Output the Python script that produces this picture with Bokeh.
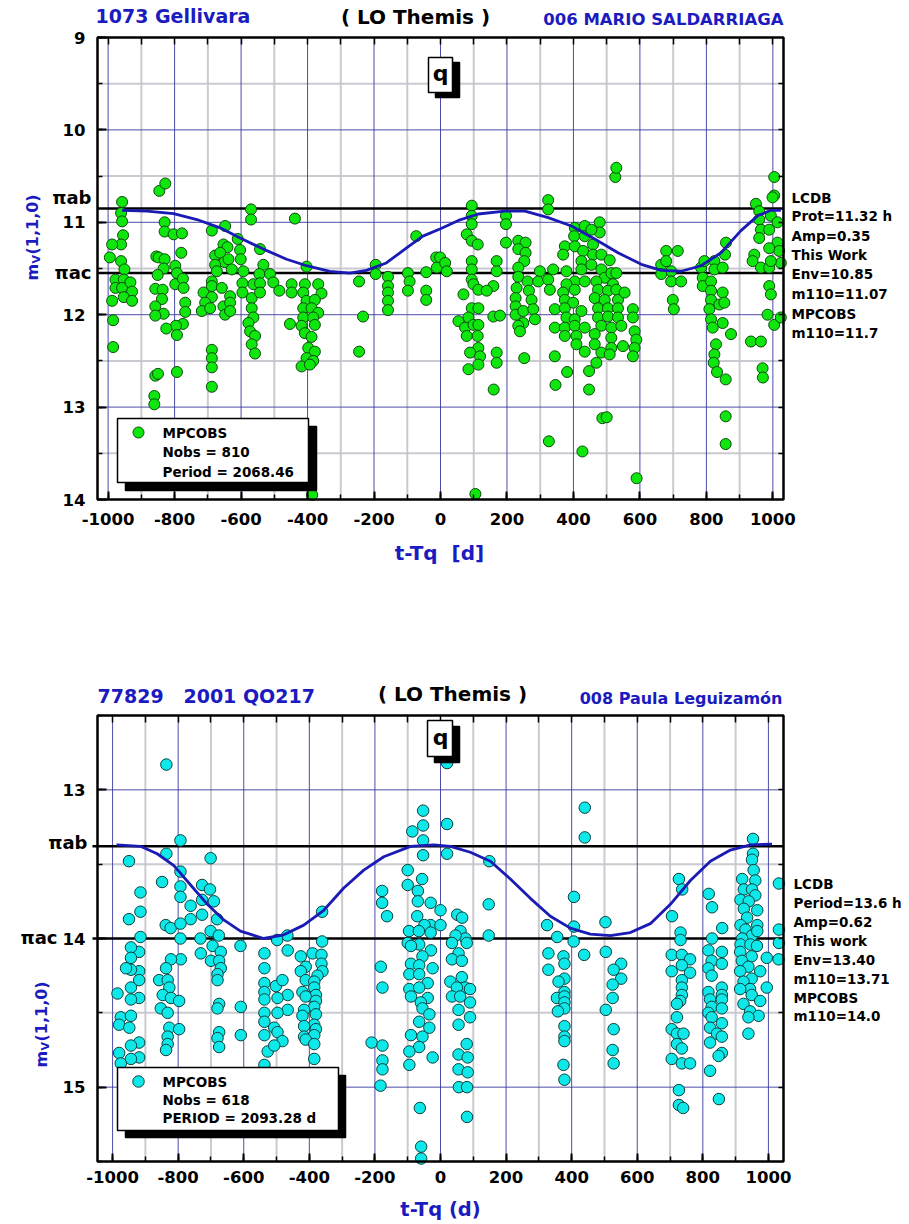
from math import pi
from bokeh.plotting import figure
from bokeh.models import Range1d, LinearAxis, SingleIntervalTicker, FixedTicker, Label
from bokeh.layouts import column
from bokeh.embed import file_html
from bokeh.resources import INLINE

# ---------------- panel 1 : 1073 Gellivara ----------------
obs1 = [
    (-958,10.78),(-961,10.90),(-958,10.99),(-955,11.14),(-961,11.24),(-988,11.24),(-995,11.38),(-961,11.42),
    (-951,11.51),(-978,11.62),(-953,11.62),(-978,11.71),(-958,11.71),(-933,11.65),(-928,11.75),(-953,11.81),
    (-928,11.85),(-988,11.85),(-985,12.06),(-985,12.35),
    (-846,10.66),(-828,10.58),(-830,11.00),(-830,11.10),(-803,11.13),(-778,11.12),(-780,11.33),(-855,11.37),
    (-848,11.38),(-830,11.40),(-833,11.50),(-851,11.57),(-798,11.47),(-793,11.55),(-798,11.67),(-775,11.61),
    (-773,11.71),(-858,11.72),(-836,11.73),(-838,11.83),(-858,11.91),(-833,11.99),(-858,12.01),(-768,11.87),
    (-768,11.97),(-775,12.10),(-796,12.12),(-825,12.15),(-793,12.22),(-858,12.66),(-850,12.64),(-861,12.88),
    (-861,12.97),(-793,12.62),
    (-688,11.09),(-648,11.04),(-610,11.18),(-653,11.24),(-641,11.27),(-678,11.36),(-663,11.33),(-650,11.43),
    (-678,11.46),(-673,11.53),(-638,11.40),(-628,11.51),(-603,11.30),(-601,11.40),(-593,11.53),(-688,11.64),
    (-713,11.76),(-688,11.69),(-658,11.71),(-633,11.80),(-688,11.81),(-708,11.87),(-718,11.96),(-693,11.93),
    (-653,11.91),(-633,11.87),(-648,12.00),(-633,11.96),(-688,12.38),(-688,12.47),(-688,12.57),(-688,12.78),
    (-570,10.86),(-570,10.97),
    (-543,11.29),(-533,11.46),(-545,11.56),(-513,11.56),(-596,11.66),(-596,11.76),(-568,11.82),(-563,11.67),
    (-543,11.66),(-543,11.76),(-503,11.65),(-485,11.74),(-568,11.93),(-563,12.03),(-578,12.09),(-573,12.18),
    (-558,12.23),(-568,12.32),(-558,12.42),(-438,10.96),
    (-448,11.67),(-448,11.76),(-403,11.48),(-408,11.67),(-368,11.67),(-413,11.76),(-358,11.77),(-403,11.85),
    (-378,11.84),(-413,11.93),(-388,11.93),(-368,11.98),(-413,12.03),(-383,12.03),(-418,12.12),(-378,12.11),
    (-408,12.20),(-388,12.24),(-453,12.10),(-398,12.36),(-378,12.40),(-403,12.47),(-383,12.50),(-418,12.56),
    (-393,12.54),(-386,13.95),
    (-245,11.64),(-233,12.02),(-245,12.40),(-195,11.46),(-195,11.56),(-158,11.59),(-158,11.69),(-158,11.76),
    (-158,11.85),(-158,11.95),
    (-73,11.15),(-98,11.55),(-93,11.64),(-98,11.74),(-43,11.54),(-43,11.74),(-43,11.84),(-13,11.38),(-11,11.49),
    (526,10.51),(529,10.41),(1004,10.51),(1004,10.71),(324,10.76),(324,10.86),
    (94,10.82),(94,10.93),(94,11.02),(79,11.13),(94,11.20),(112,11.24),(94,11.42),(94,11.51),(94,11.62),
    (99,11.67),(114,11.73),(69,11.78),(94,11.93),(114,11.93),(84,12.03),(54,12.07),(74,12.14),(99,12.11),
    (114,12.11),(79,12.23),(112,12.23),(114,12.36),(89,12.41),(119,12.45),(84,12.59),(114,12.54),(-1,11.38),
    (14,11.44),(19,11.53),(160,12.81),(105,13.94),
    (197,10.93),(197,11.02),(197,11.22),(169,11.42),(169,11.53),(159,11.69),(139,11.74),(159,12.02),
    (179,12.01),(169,12.41),(169,12.52),
    (234,11.20),(256,11.22),(234,11.29),(256,11.33),(252,11.42),(234,11.49),(234,11.59),(262,11.64),
    (266,11.74),(274,11.84),(229,11.71),(226,11.82),(226,11.91),(226,12.00),(249,11.96),(279,11.94),
    (284,12.05),(249,12.09),(234,12.12),(239,12.18),(252,12.47),
    (299,11.53),(294,11.64),(324,11.62),(339,11.51),(329,11.73),(344,11.94),(344,12.14),(344,12.45),
    (346,12.76),(326,13.37),
    (404,11.06),(434,11.04),(402,11.15),(434,11.15),(374,11.26),(404,11.26),(369,11.35),(429,11.31),
    (424,11.42),(379,11.53),(424,11.51),(404,11.64),(434,11.64),(379,11.67),(369,11.76),(404,11.73),
    (374,11.84),(399,11.87),(424,11.96),(374,11.93),(379,12.03),(404,12.05),(374,12.14),(404,12.12),
    (434,12.14),(374,12.23),(409,12.23),(409,12.32),(434,12.40),(381,12.62),(427,13.48),(447,12.61),(447,12.81),
    (479,11.00),(479,11.11),(454,11.08),(459,11.24),(459,11.35),(484,11.35),(509,11.41),(454,11.46),
    (484,11.51),(494,11.60),(469,11.64),(514,11.55),(529,11.55),(519,11.67),(474,11.73),(504,11.74),
    (529,11.73),(464,11.82),(494,11.84),(534,11.84),(474,11.93),(504,11.93),(534,11.93),(474,12.03),
    (504,12.02),(534,12.03),(484,12.12),(514,12.14),(544,12.12),(464,12.21),(514,12.25),(464,12.32),
    (514,12.36),(484,12.41),(549,12.34),(469,12.52),(509,12.43),(487,13.12),(500,13.11),
    (554,11.76),(579,11.94),(579,12.03),(584,12.18),(589,12.27),(584,12.36),(579,12.45),(590,13.77),
    (679,11.31),(714,11.31),(664,11.46),(679,11.42),(694,11.53),(694,11.64),(724,11.64),(664,11.56),
    (699,11.84),(702,11.94),
    (784,11.49),(794,11.42),(824,11.42),(824,11.51),(849,11.49),(789,11.60),(789,11.69),(814,11.64),
    (814,11.74),(849,11.76),(814,11.84),(839,11.89),(809,11.94),(854,11.87),(814,12.05),(849,12.09),
    (819,12.14),(874,12.21),(829,12.32),(824,12.43),(822,12.52),(859,11.22),(856,11.35),(832,12.62),
    (858,12.70),(858,13.10),(858,13.40),
    (949,10.80),(959,10.88),(959,10.97),(964,11.08),(959,11.17),(989,11.08),(994,10.93),(999,10.73),
    (1014,11.00),(944,11.35),(939,11.42),(964,11.49),(989,11.49),(1014,11.22),(1019,11.31),(1024,11.44),
    (989,11.28),(994,11.42),(989,11.69),(994,11.78),(984,12.00),(1004,12.11),(1024,12.03),(934,12.29),
    (964,12.29),(969,12.58),(970,12.68),
]
t1 = [a for a, b in obs1]
m1 = [b for a, b in obs1]

fit1_t = [-958,-883,-803,-733,-663,-603,-533,-463,-403,-333,-273,-223,-163,-103,-53,0,54,114,194,254,
          324,394,464,534,604,664,724,784,844,904,954,994,1024]
fit1_m = [10.87,10.88,10.905,10.97,11.06,11.17,11.29,11.40,11.47,11.53,11.55,11.52,11.44,11.28,11.15,11.07,
          10.98,10.91,10.88,10.88,10.95,11.04,11.18,11.33,11.455,11.52,11.53,11.47,11.33,11.09,10.93,10.87,10.87]
pi_ab1, pi_ac1 = 10.85, 11.55
notes1 = ["LCDB", "Prot=11.32 h", "Amp=0.35", "This Work", "Env=10.85", "m110=11.07", "MPCOBS", "m110=11.7"]
legend1 = ["MPCOBS", "Nobs = 810", "Period = 2068.46"]

# ---------------- panel 2 : 77829 2001 QO217 ----------------
obs2 = [
    (-836,12.83),(-950,13.48),(-793,13.34),(-836,13.43),(-849,13.62),(-793,13.55),(-701,13.46),(-727,13.64),
    (-703,13.67),(-793,13.65),(-793,13.72),(-727,13.74),(-691,13.75),(-915,13.69),(-915,13.82),(-950,13.87),
    (-762,13.78),(-727,13.84),(-681,13.87),(-762,13.87),(-838,13.91),(-823,13.93),(-793,13.90),(-701,13.95),
    (-676,13.98),(-915,13.99),(-793,14.00),(-732,14.00),(-610,14.05),(-467,13.98),(-498,14.01),(-361,13.82),
    (-361,14.02),
    (-178,13.68),(-178,13.76),(-163,13.85),(-100,13.54),(-100,13.64),(-53,13.14),(-86,13.28),(-53,13.24),
    (-53,13.34),(-53,13.44),(-69,13.68),(-69,13.75),(-56,13.60),(-30,13.76),(0,13.81),(-30,13.91),(0,13.91),
    (-49,13.91),(-71,13.85),(-96,13.95),(-66,13.95),(-30,13.96),(20,13.23),(20,13.43),(20,12.82),
    (440,13.12),(440,13.32),(149,13.48),(147,13.77),(147,13.98),(51,13.84),(66,13.86),(61,13.95),(76,14.00),
    (46,13.98),(407,13.72),(407,13.92),(325,13.91),(356,13.99),(503,13.89),(727,13.60),(737,13.67),
    (706,13.85),(732,13.96),(732,14.01),(818,13.70),(828,13.79),(859,13.93),(828,14.00),(953,13.33),
    (953,13.43),(950,13.47),(955,13.54),(920,13.60),(960,13.61),(925,13.67),(950,13.67),(960,13.71),
    (915,13.74),(940,13.75),(925,13.80),(966,13.81),(935,13.86),(915,13.91),(966,13.91),(930,13.94),
    (950,13.98),(920,14.00),(966,13.95),(915,14.04),(945,14.04),(1032,13.63),(1032,13.94),(1032,14.03),
    (-919,14.09),(-944,14.06),(-944,14.13),(-919,14.22),(-919,14.28),(-944,14.21),(-959,14.20),(-944,14.33),
    (-919,14.40),(-944,14.41),(-985,14.37),(-975,14.53),(-944,14.52),(-980,14.58),(-949,14.60),(-919,14.70),
    (-944,14.72),(-980,14.77),(-919,14.80),(-944,14.81),(-975,14.84),
    (-792,14.14),(-822,14.14),(-837,14.20),(-858,14.28),(-832,14.28),(-827,14.33),(-847,14.38),(-822,14.40),
    (-797,14.42),(-853,14.47),(-832,14.50),(-827,14.60),(-797,14.61),(-832,14.66),(-832,14.71),(-837,14.75),
    (-731,14.10),(-695,14.05),(-670,14.09),(-700,14.15),(-675,14.15),(-670,14.20),(-680,14.24),(-680,14.28),
    (-675,14.44),(-680,14.47),(-675,14.63),(-680,14.67),(-675,14.73),(-609,14.46),(-609,14.65),
    (-537,14.10),(-537,14.20),(-537,14.30),(-537,14.36),(-537,14.41),(-537,14.50),(-537,14.56),(-537,14.65),
    (-527,14.76),(-537,14.85),(-466,14.08),(-502,14.32),(-482,14.28),(-466,14.38),(-497,14.40),(-466,14.48),
    (-497,14.50),(-507,14.60),(-497,14.63),(-482,14.69),(-507,14.72),
    (-390,14.10),(-363,14.11),(-426,14.12),(-363,14.17),(-411,14.19),(-360,14.22),(-426,14.22),(-375,14.25),
    (-411,14.28),(-385,14.29),(-421,14.36),(-385,14.33),(-380,14.38),(-411,14.39),(-380,14.42),(-385,14.46),
    (-416,14.48),(-380,14.51),(-421,14.52),(-385,14.58),(-416,14.59),(-380,14.61),(-416,14.66),(-385,14.65),
    (-411,14.68),(-385,14.71),(-385,14.81),
    (-182,14.19),(-177,14.33),(-210,14.70),(-177,14.72),(-177,14.82),(-177,14.88),(-183,14.99),
    (-100,14.03),(-65,14.04),(-90,14.05),(-29,14.08),(-55,14.12),(-90,14.17),(-65,14.18),(-24,14.20),
    (-95,14.24),(-65,14.24),(-39,14.30),(-95,14.34),(-65,14.33),(-90,14.39),(-39,14.40),(-60,14.43),
    (-55,14.47),(-34,14.51),(-65,14.56),(-34,14.60),(-55,14.66),(-90,14.65),(-65,14.73),(-95,14.76),
    (-24,14.80),(-95,14.85),(-63,15.14),(-59,15.40),(-59,15.48),
    (35,14.03),(80,14.03),(55,14.10),(35,14.14),(65,14.15),(30,14.29),(65,14.26),(75,14.33),(50,14.33),
    (90,14.34),(35,14.39),(60,14.39),(90,14.43),(55,14.48),(90,14.53),(55,14.58),(80,14.71),(55,14.78),
    (83,14.80),(55,14.88),(83,14.90),(56,15.00),(81,15.00),(81,15.20),
    (406,14.02),(329,14.10),(375,14.12),(378,14.17),(329,14.21),(378,14.27),(360,14.29),(378,14.36),
    (355,14.40),(378,14.39),(378,14.43),(378,14.47),(358,14.49),(378,14.59),(378,14.66),(378,14.69),
    (375,14.85),(378,14.95),(438,14.11),
    (504,14.09),(551,14.17),(528,14.21),(551,14.27),(525,14.31),(525,14.40),(504,14.48),(528,14.61),
    (525,14.75),(528,14.84),
    (705,14.11),(736,14.11),(761,14.14),(705,14.22),(736,14.18),(761,14.23),(736,14.28),(736,14.33),
    (736,14.38),(731,14.42),(721,14.44),(721,14.53),(705,14.61),(721,14.64),(741,14.64),(721,14.71),
    (736,14.74),(705,14.81),(736,14.84),(761,14.84),(727,15.02),(727,15.12),(740,15.14),
    (817,14.08),(858,14.09),(827,14.15),(858,14.17),(817,14.20),(827,14.25),(858,14.33),(817,14.36),
    (858,14.38),(822,14.41),(858,14.41),(827,14.46),(858,14.47),(817,14.50),(827,14.53),(858,14.57),
    (822,14.60),(843,14.64),(858,14.66),(822,14.70),(858,14.77),(848,14.79),(822,14.89),(849,15.08),
    (965,14.05),(914,14.09),(949,14.12),(919,14.15),(939,14.19),(975,14.22),(914,14.22),(949,14.27),
    (924,14.29),(944,14.34),(914,14.34),(949,14.38),(975,14.42),(924,14.44),(944,14.49),(970,14.52),
    (939,14.53),(939,14.64),(995,14.13),(1031,14.14),(995,14.33),
]
t2 = [a for a, b in obs2]
m2 = [b for a, b in obs2]

fit2_t = [-988,-915,-864,-813,-762,-711,-661,-610,-539,-478,-417,-356,-295,-234,-173,-91,-20,30,91,152,
          213,274,335,396,457,518,579,640,701,762,823,884,945,1011]
fit2_m = [13.37,13.38,13.43,13.51,13.64,13.77,13.875,13.95,14.0,13.975,13.91,13.81,13.66,13.54,13.45,13.38,
          13.37,13.38,13.42,13.48,13.60,13.73,13.85,13.93,13.97,13.98,13.96,13.90,13.77,13.61,13.48,13.405,
          13.37,13.365]
pi_ab2, pi_ac2 = 13.38, 14.0
notes2 = ["LCDB", "Period=13.6 h", "Amp=0.62", "This work", "Env=13.40", "m110=13.71", "MPCOBS", "m110=14.0"]
legend2 = ["MPCOBS", "Nobs = 618", "PERIOD = 2093.28 d"]

# ---------------- styling ----------------
FONT = "DejaVu Sans"
BLUE = "#1b1bbf"
CURVE = "#1a1ab4"
MAJ_GRID = "#3a3aa0"
MIN_GRID = "#c4c4cc"
NB = "\u00a0"
W = 905


def make_panel(H, page_top, xlim, ylim, box):
    x0, x1 = xlim
    ytop, ybot = ylim
    bl, bt, br, bb = box          # plot box, page pixels

    def X(px):
        return x0 + (px - bl) / (br - bl) * (x1 - x0)

    def Y(py):
        return ytop + (py - bt) / (bb - bt) * (ybot - ytop)

    p = figure(frame_width=W, frame_height=H, min_border=0,
               x_range=Range1d(X(0), X(W)), y_range=Range1d(Y(page_top + H), Y(page_top)),
               x_axis_location=None, y_axis_location=None,
               output_backend="svg", toolbar_location=None)
    p.outline_line_color = None
    p.background_fill_color = "white"
    p.border_fill_color = "white"
    p.xgrid.visible = False
    p.ygrid.visible = False
    return p, X, Y


def style_axis(ax, major_in, minor_in, standoff):
    ax.axis_line_color = None
    ax.major_tick_in = major_in
    ax.major_tick_out = 0
    ax.minor_tick_in = minor_in
    ax.minor_tick_out = 0
    ax.major_tick_line_color = "black"
    ax.major_tick_line_width = 2
    ax.minor_tick_line_color = "black"
    ax.minor_tick_line_width = 1.5
    ax.major_label_text_font = FONT
    ax.major_label_text_font_style = "bold"
    ax.major_label_text_color = "black"
    ax.major_label_text_font_size = "16.5px"
    ax.major_label_standoff = standoff


def frame_axes(p, xlim, ylim, xs_std, ys_std):
    x0, x1 = xlim
    ytop, ybot = ylim
    ylo, yhi = min(ytop, ybot), max(ytop, ybot)
    xb = LinearAxis(fixed_location=ybot, bounds=(x0, x1),
                    ticker=SingleIntervalTicker(interval=200, num_minor_ticks=2))
    style_axis(xb, 8, 5, xs_std)
    xb.major_label_overrides = {v: str(v) for v in range(-1000, 0, 200)}
    p.add_layout(xb, "below")
    yl = LinearAxis(fixed_location=x0, bounds=(ylo, yhi),
                    ticker=SingleIntervalTicker(interval=1, num_minor_ticks=2))
    style_axis(yl, 9, 5, ys_std)
    p.add_layout(yl, "left")
    xt = LinearAxis(fixed_location=ytop, bounds=(x0, x1),
                    ticker=FixedTicker(ticks=[], minor_ticks=list(range(-1000, 1001, 100))))
    style_axis(xt, 8, 7, 0)
    p.add_layout(xt, "above")
    yr = LinearAxis(fixed_location=x1, bounds=(ylo, yhi),
                    ticker=FixedTicker(ticks=[], minor_ticks=[ylo + 0.5 * k for k in range(1, int((yhi - ylo) * 2))]))
    style_axis(yr, 6, 5, 0)
    p.add_layout(yr, "right")


def grid_lines(p, xlim, ylim):
    x0, x1 = xlim
    ytop, ybot = ylim
    ylo, yhi = min(ytop, ybot), max(ytop, ybot)
    xmaj = list(range(-1000, 1001, 200))
    xmin = list(range(-900, 1000, 200))
    ymaj = [v for v in range(int(ylo) + 1, int(yhi) + 1) if ylo < v < yhi]
    ymin = [v + 0.5 for v in range(int(ylo), int(yhi)) if ylo < v + 0.5 < yhi]
    for xs, ys, col, w in ((xmin, ymin, MIN_GRID, 2), (xmaj, ymaj, MAJ_GRID, 1)):
        p.segment(x0=xs, x1=xs, y0=[ytop] * len(xs), y1=[ybot] * len(xs),
                  line_color=col, line_width=w, line_alpha=0.9, level="underlay")
        p.segment(x0=[x0] * len(ys), x1=[x1] * len(ys), y0=ys, y1=ys,
                  line_color=col, line_width=w, line_alpha=0.9, level="underlay")


def txt(p, X, Y, px, py, text, size, color="black", align="left", baseline="middle", angle=0, level="annotation"):
    p.add_layout(Label(x=X(px), y=Y(py), text=text, text_font=FONT, text_font_style="bold",
                       text_font_size=size, text_color=color, text_align=align,
                       text_baseline=baseline, angle=angle, level=level))


def draw(p, X, Y, xlim, ylim, t, m, fit_t, fit_m, ab, ac, line_x0, fill, edge, msize, notes, note_x, note_ys,
         legend, box, shadow, mark_xy, leg_x, leg_ys, qbox, qshadow, qxy):
    x0, x1 = xlim
    ytop, ybot = ylim
    grid_lines(p, xlim, ylim)
    p.segment(x0=[line_x0, line_x0], x1=[x1, x1], y0=[ab, ac], y1=[ab, ac], line_color="black", line_width=2.5)
    p.scatter(t, m, size=msize, fill_color=fill, line_color=edge, line_width=1)
    p.line(fit_t, fit_m, line_color=CURVE, line_width=2.8)
    # frame outline
    p.quad(left=[x0], right=[x1], top=[ytop], bottom=[ybot], fill_color=None,
           line_color="black", line_width=2.5, level="overlay")
    # legend box with shadow
    for (l, tp, r, b), col in ((shadow, "black"), (box, "white")):
        p.quad(left=[X(l)], right=[X(r)], top=[Y(tp)], bottom=[Y(b)], fill_color=col,
               line_color="black", line_width=1.5, level="overlay")
    p.scatter([X(mark_xy[0])], [Y(mark_xy[1])], size=msize, fill_color=fill, line_color=edge,
              line_width=1, level="overlay")
    for s, yy in zip(legend, leg_ys):
        txt(p, X, Y, leg_x, yy, s, "13.5px", level="overlay")
    # q box
    for (l, tp, r, b), col in ((qshadow, "black"), (qbox, "white")):
        p.quad(left=[X(l)], right=[X(r)], top=[Y(tp)], bottom=[Y(b)], fill_color=col,
               line_color="black", line_width=1.5, level="overlay")
    txt(p, X, Y, qxy[0], qxy[1], "q", "22px", align="center", level="overlay")
    for s, yy in zip(notes, note_ys):
        txt(p, X, Y, note_x, yy, s, "13.5px")


# ---- top figure (page y 0..640) ----
xl1, yl1 = (-1032, 1032), (9, 14)
p1, X1, Y1 = make_panel(640, 0, xl1, yl1, (97, 37, 783, 499))
frame_axes(p1, xl1, yl1, 13, 12)
draw(p1, X1, Y1, xl1, yl1, t1, m1, fit1_t, fit1_m, pi_ab1, pi_ac1, -1032, "#0ee60e", "#0b4a0b", 11,
     notes1, 791, [197, 215, 235, 254, 273, 293, 313, 332],
     legend1, (117, 418, 308, 482), (125, 426, 316, 490), (138, 432), 162, [432, 451, 471],
     (428, 57, 452, 92), (435, 62, 459, 97), (440, 73))
txt(p1, X1, Y1, 95, 15, "1073 Gellivara", "19px", color=BLUE)
txt(p1, X1, Y1, 415, 16, "( LO Themis )", "20px", align="center")
txt(p1, X1, Y1, 783, 19, "006 MARIO SALDARRIAGA", "16.5px", color=BLUE, align="right")
txt(p1, X1, Y1, 439, 552, "t-Tq" + NB + NB + "[d]", "20px", color=BLUE, align="center")
txt(p1, X1, Y1, 91, 197, "\u03c0ab", "18px", align="right")
txt(p1, X1, Y1, 91, 272, "\u03c0ac", "18px", align="right")
txt(p1, X1, Y1, 32, 280, "m", "16px", color=BLUE, baseline="alphabetic", angle=pi / 2)
txt(p1, X1, Y1, 36, 263, "V", "11px", color=BLUE, baseline="alphabetic", angle=pi / 2)
txt(p1, X1, Y1, 32, 254, "(1,1,0)", "16px", color=BLUE, baseline="alphabetic", angle=pi / 2)

# ---- bottom figure (page y 640..1224) ----
xl2, yl2 = (-1046, 1046), (12.5, 15.5)
p2, X2, Y2 = make_panel(584, 640, xl2, yl2, (97, 715, 783, 1161))
frame_axes(p2, xl2, yl2, 9, 12)
draw(p2, X2, Y2, xl2, yl2, t2, m2, fit2_t, fit2_m, pi_ab2, pi_ac2, X2(92), "#0ee8e8", "#0a4040", 11.5,
     notes2, 793, [883, 902, 921, 940, 959, 978, 997, 1015],
     legend2, (117, 1067, 338, 1130), (125, 1075, 345, 1137), (138, 1081), 162, [1081, 1099, 1117],
     (427, 720, 452, 756), (434, 726, 459, 762), (440, 737))
txt(p2, X2, Y2, 97, 695, "77829" + NB * 3 + "2001 QO217", "19px", color=BLUE)
txt(p2, X2, Y2, 452, 693, "( LO Themis )", "20px", align="center")
txt(p2, X2, Y2, 782, 698, "008 Paula Leguizamón", "16px", color=BLUE, align="right")
txt(p2, X2, Y2, 440, 1209, "t-Tq (d)", "19.5px", color=BLUE, align="center")
txt(p2, X2, Y2, 87, 842, "\u03c0ab", "18px", align="right")
txt(p2, X2, Y2, 57, 937, "\u03c0ac", "18px", align="right")
txt(p2, X2, Y2, 41, 1067, "m", "16px", color=BLUE, baseline="alphabetic", angle=pi / 2)
txt(p2, X2, Y2, 45, 1050, "V", "11px", color=BLUE, baseline="alphabetic", angle=pi / 2)
txt(p2, X2, Y2, 41, 1041, "(1,1,0)", "16px", color=BLUE, baseline="alphabetic", angle=pi / 2)

layout = column(p1, p2)
open("out.html", "w").write(file_html(layout, INLINE))
